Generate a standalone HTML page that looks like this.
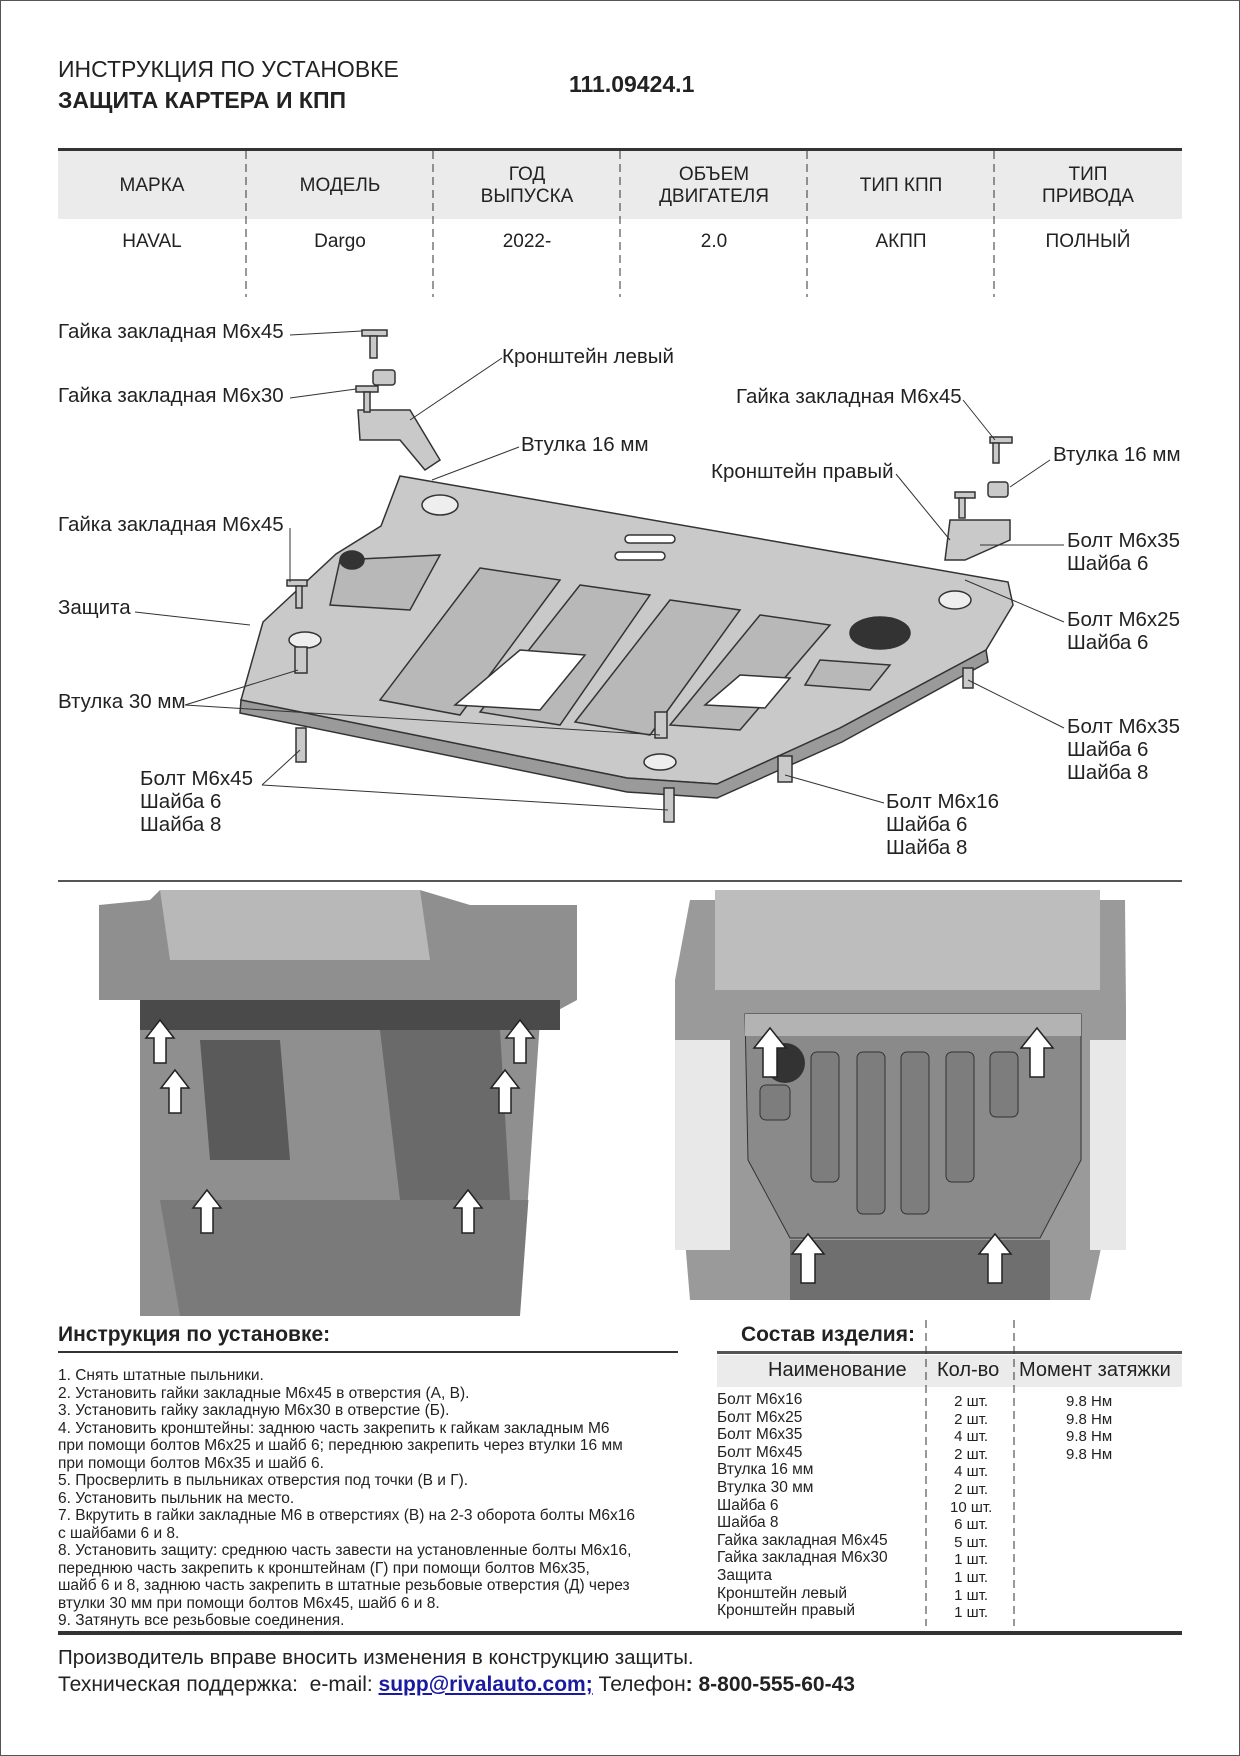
<!DOCTYPE html>
<html><head><meta charset="utf-8">
<style>
*{margin:0;padding:0;box-sizing:border-box}
body{width:1240px;height:1756px;position:relative;background:#fff;font-family:"Liberation Sans",Arial,sans-serif;color:#222;overflow:hidden}
.t{position:absolute;white-space:nowrap;line-height:1}
.lb{font-size:20.5px}
.c{text-align:center;transform:translateX(-50%)}
.hd{font-size:19px;text-align:center;line-height:22px}
</style></head><body>
<svg width="1240" height="1756" style="position:absolute;left:0;top:0">
<rect x="0.5" y="0.5" width="1239" height="1755" fill="none" stroke="#555" stroke-width="1"/>
<rect x="58" y="151" width="1124" height="68" fill="#ebebeb"/>
<rect x="58" y="148" width="1124" height="3" fill="#333"/>
<g stroke="#333" stroke-width="1" stroke-dasharray="8,5">
<line x1="246" y1="151" x2="246" y2="297"/><line x1="433" y1="151" x2="433" y2="297"/>
<line x1="620" y1="151" x2="620" y2="297"/><line x1="807" y1="151" x2="807" y2="297"/>
<line x1="994" y1="151" x2="994" y2="297"/>
</g>
<g stroke="#333" stroke-width="1.5" fill="#c9c9c9">
<polygon points="400,476 1008,582 1013,605 986,650 840,728 717,784 627,778 241,700 263,622 336,554 381,526"/>
<polygon points="241,700 627,778 717,784 840,728 986,650 988,662 842,742 717,798 627,792 240,713" fill="#9a9a9a"/>
<path d="M340 560 L440 555 L410 610 L330 605 Z" fill="#b8b8b8"/>
<path d="M480 568 L560 580 L460 715 L380 700 Z" fill="#b8b8b8"/>
<path d="M580 585 L650 595 L560 725 L480 712 Z" fill="#b8b8b8"/>
<path d="M670 600 L740 610 L650 735 L575 722 Z" fill="#b8b8b8"/>
<path d="M760 615 L830 625 L740 730 L670 725 Z" fill="#b8b8b8"/>
<path d="M820 660 L890 665 L870 690 L805 685 Z" fill="#b8b8b8"/>
<polygon points="520,650 585,655 540,710 455,705" fill="#fff"/>
<polygon points="740,675 790,678 765,708 705,705" fill="#fff"/>
<ellipse cx="880" cy="633" rx="30" ry="16" fill="#333"/>
<ellipse cx="352" cy="560" rx="12" ry="9" fill="#333"/>
<rect x="625" y="535" width="50" height="8" rx="4" fill="#fff"/>
<rect x="615" y="552" width="50" height="8" rx="4" fill="#fff"/>
<ellipse cx="440" cy="505" rx="18" ry="10" fill="#eee"/>
<ellipse cx="955" cy="600" rx="16" ry="9" fill="#eee"/>
<ellipse cx="305" cy="640" rx="16" ry="8" fill="#eee"/>
<ellipse cx="660" cy="762" rx="16" ry="8" fill="#eee"/>
<polygon points="358,410 410,410 440,460 425,470 400,440 360,440" />
<polygon points="950,520 1010,520 1010,540 965,560 945,560"/>
<rect x="373" y="370" width="22" height="15" rx="3"/>
<rect x="988" y="482" width="20" height="15" rx="3"/>
<rect x="362" y="330" width="25" height="6"/><rect x="370" y="336" width="7" height="22"/>
<rect x="356" y="386" width="22" height="6"/><rect x="364" y="392" width="6" height="20"/>
<rect x="990" y="437" width="22" height="6"/><rect x="993" y="443" width="6" height="20"/>
<rect x="955" y="492" width="20" height="6"/><rect x="959" y="498" width="6" height="20"/>
<rect x="287" y="580" width="20" height="6"/><rect x="296" y="586" width="6" height="22"/>
<rect x="295" y="647" width="12" height="26"/><rect x="655" y="712" width="12" height="26"/>
<rect x="296" y="728" width="10" height="34"/><rect x="664" y="788" width="10" height="34"/>
<rect x="778" y="756" width="14" height="26"/><rect x="963" y="668" width="10" height="20"/>
</g>
<g stroke="#333" stroke-width="1" fill="none">
<line x1="290" y1="335" x2="362" y2="331"/>
<line x1="290" y1="398" x2="356" y2="389"/>
<line x1="502" y1="358" x2="410" y2="420"/>
<line x1="963" y1="400" x2="995" y2="440"/>
<line x1="519" y1="447" x2="432" y2="480"/>
<line x1="1050" y1="460" x2="1010" y2="487"/>
<line x1="896" y1="474" x2="950" y2="540"/>
<line x1="290" y1="528" x2="290" y2="582"/>
<line x1="1064" y1="545" x2="980" y2="545"/>
<line x1="135" y1="612" x2="250" y2="625"/>
<line x1="1064" y1="622" x2="965" y2="580"/>
<line x1="185" y1="705" x2="298" y2="670"/>
<line x1="185" y1="705" x2="660" y2="735"/>
<line x1="1064" y1="728" x2="968" y2="680"/>
<line x1="262" y1="785" x2="300" y2="750"/>
<line x1="262" y1="785" x2="668" y2="810"/>
<line x1="884" y1="803" x2="785" y2="775"/>
</g>
<rect x="58" y="880" width="1124" height="2" fill="#555"/>
<g>
<polygon points="99,905 150,900 160,890 420,890 470,905 577,905 577,1000 540,1020 520,1316 120,1316 99,1200" fill="#8f8f8f"/>
<path d="M160,890 L420,890 L430,960 L170,960 Z" fill="#b8b8b8"/>
<path d="M140,1000 L560,1000 L560,1030 L140,1030 Z" fill="#4a4a4a"/>
<path d="M200,1040 L280,1040 L290,1160 L210,1160 Z" fill="#5a5a5a"/>
<path d="M380,1030 L500,1030 L510,1200 L400,1200 Z" fill="#6a6a6a"/>
<path d="M160,1200 L540,1200 L520,1316 L180,1316 Z" fill="#7a7a7a"/>
<path d="M99,1000 L140,1000 L140,1316 L99,1316 Z" fill="#fff"/>
<path d="M540,1040 L577,1040 L577,1316 L520,1316 Z" fill="#fff"/>
</g>
<g>
<polygon points="690,900 1125,900 1126,1010 1126,1130 1090,1300 690,1300 675,1120 675,980" fill="#9a9a9a"/>
<path d="M715,890 L1100,890 L1100,990 L715,990 Z" fill="#bdbdbd"/>
<path d="M675,1040 L730,1040 L730,1250 L675,1250 Z" fill="#e8e8e8"/>
<path d="M1090,1040 L1126,1040 L1126,1250 L1090,1250 Z" fill="#e8e8e8"/>
<polygon points="745,1014 1081,1014 1081,1160 1040,1238 790,1238 748,1160" fill="#8a8a8a" stroke="#333"/>
<rect x="745" y="1014" width="336" height="22" fill="#b3b3b3"/>
<g fill="#7d7d7d" stroke="#333"><rect x="811" y="1052" width="28" height="130" rx="6"/><rect x="857" y="1052" width="28" height="162" rx="6"/><rect x="901" y="1052" width="28" height="162" rx="6"/><rect x="946" y="1052" width="28" height="130" rx="6"/><rect x="990" y="1052" width="28" height="65" rx="6"/><rect x="760" y="1085" width="30" height="35" rx="6"/></g>
<circle cx="785" cy="1063" r="20" fill="#333"/>
<rect x="790" y="1240" width="260" height="60" fill="#6f6f6f"/>
</g>
<g fill="#fff" stroke="#222" stroke-width="1.5">
<path d="M160,1020 l-14,18 h8 v25 h12 v-25 h8 z"/><path d="M520,1020 l-14,18 h8 v25 h12 v-25 h8 z"/>
<path d="M175,1070 l-14,18 h8 v25 h12 v-25 h8 z"/><path d="M505,1070 l-14,18 h8 v25 h12 v-25 h8 z"/>
<path d="M207,1190 l-14,18 h8 v25 h12 v-25 h8 z"/><path d="M468,1190 l-14,18 h8 v25 h12 v-25 h8 z"/>
<path d="M770,1028 l-16,20 h9 v29 h14 v-29 h9 z"/><path d="M1037,1028 l-16,20 h9 v29 h14 v-29 h9 z"/>
<path d="M808,1234 l-16,20 h9 v29 h14 v-29 h9 z"/><path d="M995,1234 l-16,20 h9 v29 h14 v-29 h9 z"/>
</g>
<rect x="58" y="1351" width="620" height="2" fill="#333"/>
<rect x="717" y="1355" width="465" height="32" fill="#ebebeb"/>
<rect x="717" y="1351" width="465" height="3" fill="#555"/>
<g stroke="#333" stroke-width="1" stroke-dasharray="8,5"><line x1="926" y1="1320" x2="926" y2="1626"/><line x1="1014" y1="1320" x2="1014" y2="1626"/></g>
<rect x="58" y="1631" width="1124" height="4" fill="#333"/>
</svg>

<div class="t" style="left:58px;top:58px;font-size:23px">ИНСТРУКЦИЯ ПО УСТАНОВКЕ</div>
<div class="t" style="left:58px;top:89px;font-size:23px;font-weight:bold">ЗАЩИТА КАРТЕРА И КПП</div>
<div class="t" style="left:569px;top:73px;font-size:23px;font-weight:bold">111.09424.1</div>

<div class="t hd c" style="left:152px;top:175px">МАРКА</div>
<div class="t hd c" style="left:340px;top:175px">МОДЕЛЬ</div>
<div class="t hd c" style="left:527px;top:164px">ГОД<br>ВЫПУСКА</div>
<div class="t hd c" style="left:714px;top:164px">ОБЪЕМ<br>ДВИГАТЕЛЯ</div>
<div class="t hd c" style="left:901px;top:175px">ТИП КПП</div>
<div class="t hd c" style="left:1088px;top:164px">ТИП<br>ПРИВОДА</div>
<div class="t hd c" style="left:152px;top:231px">HAVAL</div>
<div class="t hd c" style="left:340px;top:231px">Dargo</div>
<div class="t hd c" style="left:527px;top:231px">2022-</div>
<div class="t hd c" style="left:714px;top:231px">2.0</div>
<div class="t hd c" style="left:901px;top:231px">АКПП</div>
<div class="t hd c" style="left:1088px;top:231px">ПОЛНЫЙ</div>

<div class="t lb" style="left:58px;top:322px">Гайка закладная М6х45</div>
<div class="t lb" style="left:502px;top:347px">Кронштейн левый</div>
<div class="t lb" style="left:58px;top:386px">Гайка закладная М6х30</div>
<div class="t lb" style="left:736px;top:387px">Гайка закладная М6х45</div>
<div class="t lb" style="left:521px;top:435px">Втулка 16 мм</div>
<div class="t lb" style="left:1053px;top:445px">Втулка 16 мм</div>
<div class="t lb" style="left:711px;top:462px">Кронштейн правый</div>
<div class="t lb" style="left:58px;top:515px">Гайка закладная М6х45</div>
<div class="t lb" style="left:1067px;top:529px;line-height:23px;white-space:pre">Болт М6х35
Шайба 6</div>
<div class="t lb" style="left:58px;top:598px">Защита</div>
<div class="t lb" style="left:1067px;top:608px;line-height:23px;white-space:pre">Болт М6х25
Шайба 6</div>
<div class="t lb" style="left:58px;top:692px">Втулка 30 мм</div>
<div class="t lb" style="left:1067px;top:715px;line-height:23px;white-space:pre">Болт М6х35
Шайба 6
Шайба 8</div>
<div class="t lb" style="left:140px;top:767px;line-height:23px;white-space:pre">Болт М6х45
Шайба 6
Шайба 8</div>
<div class="t lb" style="left:886px;top:790px;line-height:23px;white-space:pre">Болт М6х16
Шайба 6
Шайба 8</div>

<div class="t" style="left:58px;top:1324px;font-size:21px;font-weight:bold">Инструкция по установке:</div>
<div class="t" style="left:741px;top:1324px;font-size:21px;font-weight:bold">Состав изделия:</div>
<div class="t" style="left:58px;top:1367px;font-size:15.5px;line-height:17.5px;white-space:pre">1. Снять штатные пыльники.
2. Установить гайки закладные М6х45 в отверстия (А, В).
3. Установить гайку закладную М6х30 в отверстие (Б).
4. Установить кронштейны: заднюю часть закрепить к гайкам закладным М6
при помощи болтов М6х25 и шайб 6; переднюю закрепить через втулки 16 мм
при помощи болтов М6х35 и шайб 6.
5. Просверлить в пыльниках отверстия под точки (В и Г).
6. Установить пыльник на место.
7. Вкрутить в гайки закладные М6 в отверстиях (В) на 2-3 оборота болты М6х16
с шайбами 6 и 8.
8. Установить защиту: среднюю часть завести на установленные болты М6х16,
переднюю часть закрепить к кронштейнам (Г) при помощи болтов М6х35,
шайб 6 и 8, заднюю часть закрепить в штатные резьбовые отверстия (Д) через
втулки 30 мм при помощи болтов М6х45, шайб 6 и 8.
9. Затянуть все резьбовые соединения.</div>
<div class="t" style="left:768px;top:1360px;font-size:20px">Наименование</div>
<div class="t" style="left:937px;top:1360px;font-size:20px">Кол-во</div>
<div class="t" style="left:1019px;top:1360px;font-size:20px">Момент затяжки</div>
<div class="t" style="left:717px;top:1391px;font-size:15.5px;line-height:17.6px;white-space:pre">Болт М6х16
Болт М6х25
Болт М6х35
Болт М6х45
Втулка 16 мм
Втулка 30 мм
Шайба 6
Шайба 8
Гайка закладная М6х45
Гайка закладная М6х30
Защита
Кронштейн левый
Кронштейн правый</div>
<div class="t" style="left:950px;top:1393px;font-size:15px;line-height:17.6px;white-space:pre;text-align:center">2 шт.
2 шт.
4 шт.
2 шт.
4 шт.
2 шт.
10 шт.
6 шт.
5 шт.
1 шт.
1 шт.
1 шт.
1 шт.</div>
<div class="t" style="left:1066px;top:1393px;font-size:15px;line-height:17.6px;white-space:pre">9.8 Нм
9.8 Нм
9.8 Нм
9.8 Нм</div>
<div class="t" style="left:58px;top:1648px;font-size:20.5px">Производитель вправе вносить изменения в конструкцию защиты.</div>
<div class="t" style="left:58px;top:1674px;font-size:21px">Техническая поддержка:&nbsp; e-mail: <b style="color:#1a1aa0;text-decoration:underline">supp@rivalauto.com;</b> Телефон<b>: 8-800-555-60-43</b></div>
</body></html>
